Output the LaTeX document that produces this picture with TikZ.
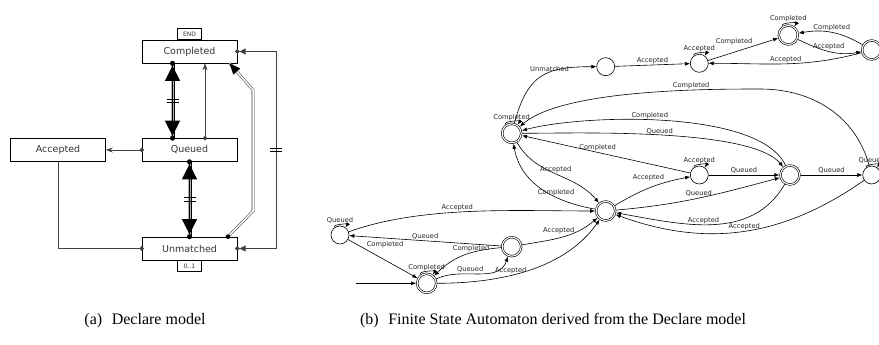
\documentclass[tikz,border=0pt]{standalone}
\usepackage{fontspec}
\setmainfont{DejaVu Sans}
\newfontfamily\capfont{Liberation Serif}
\usepackage{tikz}
\usetikzlibrary{arrows.meta,positioning,calc}

\tikzset{
  activity/.style={draw, line width=0.6pt, minimum width=95pt, minimum height=23pt, inner sep=0pt, font=\fontsize{9.5}{11}\selectfont, text=black!80},
  cardtag/.style={draw, line width=0.5pt, minimum width=24pt, minimum height=11pt, inner sep=0pt, font=\fontsize{6}{7}\selectfont, text=black!80},
  dline/.style={draw=black!75, line width=0.7pt},
  respline/.style={dline, {Circle[length=4.5pt]}-{Stealth[length=7pt,width=5pt]}, shorten <=-2.25pt},
  chainouter/.style={draw=black, line width=0.8pt, double=black!30, double distance=2.4pt},
  chaininner/.style={draw=black, line width=0.8pt, {Circle[length=5pt]Triangle[length=15pt,width=15pt]}-{Triangle[length=15pt,width=15pt]Circle[length=5pt]}, shorten <=-2.5pt, shorten >=-2.5pt},
  altline/.style={draw=black!75, line width=0.55pt, double=white, double distance=1.5pt},
  alttips/.style={tips=true, black, {Circle[length=4.5pt]}-{Triangle[length=11pt,width=9pt]}, shorten <=-2.25pt},
  notcoex/.style={dline, {Circle[length=4.5pt]Triangle[length=6pt,width=6pt]}-{Triangle[length=6pt,width=6pt]Circle[length=4.5pt]}, shorten <=-2.25pt, shorten >=-2.25pt},
  notbar/.pic={\draw[line width=0.6pt, black] (-6pt,-1.6pt) -- (6pt,-1.6pt) (-6pt,1.6pt) -- (6pt,1.6pt);},
  fsastate/.style={circle, draw, line width=0.6pt, minimum size=18pt, inner sep=0pt},
  fsafinal/.style={fsastate, double, double distance=1.1pt, minimum size=19pt, outer sep=1.1pt},
  fsa/.style={draw, line width=0.6pt, -{Latex[length=5pt,width=4pt]}},
  lbl/.style={font=\fontsize{6.7}{7}\selectfont, text=black!85, inner sep=1pt},
  every loop/.style={looseness=1, min distance=17pt},
  selfloop/.style={loop, out=125, in=55},
  subcap/.style={font=\capfont\fontsize{16}{18}\selectfont, inner sep=0pt}
}

\begin{document}
\begin{tikzpicture}[x=1pt, y=1pt]
\path[use as bounding box, clip] (0,0) rectangle (879,345);

% Declare model
\node[activity] (cmp) at (189.5,293.5) {Completed};
\node[activity] (que) at (189.5,195) {Queued};
\node[activity] (acc) at (58,195) {Accepted};
\node[activity] (unm) at (189.5,96.5) {Unmatched};
\node[cardtag, above=0pt of cmp] (cmpEnd) {END};
\node[cardtag, below=0pt of unm] (unmCard) {0..1};
\coordinate (b1) at (253,134);
\coordinate (b2) at (253,255);
\coordinate (rbot) at (276,96.5);
\coordinate (rtop) at (276,293.5);

\draw[chainouter] ([xshift=-17pt]cmp.south) -- ([xshift=-17pt]que.north);
\draw[chaininner] ([xshift=-17pt]cmp.south) -- ([xshift=-17pt]que.north);
\path ([xshift=-17pt]cmp.south) -- pic[pos=0.5]{notbar} ([xshift=-17pt]que.north);
\draw[chainouter] (que.south) -- (unm.north);
\draw[chaininner] (que.south) -- (unm.north);
\path (que.south) -- pic[pos=0.5]{notbar} (unm.north);
\draw[respline] ([xshift=15.5pt]que.north) -- ([xshift=15.5pt]cmp.south);
\draw[respline] (que.west) -- (acc.east);
\draw[dline, -{Circle[length=4.5pt]}, shorten >=-2.25pt] (acc.south) |- (unm.west);
\draw[altline] ([xshift=38.5pt]unm.north) -- (b1) -- (b2) -- ([xshift=40pt]cmp.south);
\path[alttips] ([xshift=38.5pt]unm.north) -- (b1) -- (b2) -- ([xshift=40pt]cmp.south);
\draw[notcoex] (unm.east) -- (rbot) -- (rtop) -- (cmp.east);
\path (rbot) -- pic[pos=0.5]{notbar} (rtop);

% automaton
\node[fsafinal] (s0) at (426.7,61.7) {};
\node[fsastate] (s1) at (340,110) {};
\node[fsafinal] (s2) at (511.7,98.3) {};
\node[fsafinal] (s3) at (605.7,134) {};
\node[fsastate] (s4) at (699.3,170) {};
\node[fsafinal] (s5) at (790,170) {};
\node[fsastate] (s6) at (871.7,170) {};
\node[fsafinal] (s7) at (511.7,211.7) {};
\node[fsastate] (s8) at (605.7,278.3) {};
\node[fsastate] (s9) at (699.3,281.7) {};
\node[fsafinal] (s10) at (788.3,310) {};
\node[fsafinal] (s11) at (871.7,295) {};
\coordinate (init) at (355.7,61.7);
\coordinate (k1) at (760,256);

\draw[fsa] (init) -- (s0);
\draw[fsa] (s0) to[selfloop] node[lbl,above] {Completed} (s0);
\draw[fsa] (s1) to[selfloop] node[lbl,above] {Queued} (s1);
\draw[fsa] (s4) to[selfloop] node[lbl,above] {Accepted} (s4);
\draw[fsa] (s6) to[selfloop] node[lbl,above] {Queued} (s6);
\draw[fsa] (s7) to[selfloop] node[lbl,above] {Completed} (s7);
\draw[fsa] (s9) to[selfloop] node[lbl,above] {Accepted} (s9);
\draw[fsa] (s10) to[selfloop] node[lbl,above] {Completed} (s10);

\draw[fsa] (s7) to[out=75,in=180,looseness=1.3] node[lbl,above,pos=0.6] {Unmatched} (s8);
\draw[fsa] (s8) -- node[lbl,above] {Accepted} (s9);
\draw[fsa] (s9) -- node[lbl,above left=0pt,pos=0.65] {Completed} (s10);
\draw[fsa] (s11) to[out=150,in=10] node[lbl,above] {Completed} (s10);
\draw[fsa] (s10) to[out=-25,in=190] node[lbl,above] {Accepted} (s11);
\draw[fsa] (s11) to[out=195,in=0] node[lbl,above] {Accepted} (s9);
\draw[fsa] (s6) to[out=105,in=0] (k1) to[out=180,in=40,looseness=0.6] node[lbl,above,pos=0.3] {Completed} (s7);
\draw[fsa] (s5) to[out=115,in=15,looseness=0.6] node[lbl,above,pos=0.55] {Completed} (s7);
\draw[fsa] (s7) to[out=0,in=130,looseness=0.5] node[lbl,above,pos=0.5] {Queued} (s5);
\draw[fsa] (s4) -- node[lbl,above,pos=0.55] {Completed} (s7);
\draw[fsa] (s7) to[out=-60,in=130] node[lbl,above] {Accepted} (s3);
\draw[fsa] (s3) to[out=170,in=-80] node[lbl,above,pos=0.35] {Completed} (s7);
\draw[fsa] (s3) to[bend left=10] node[lbl,above left=0pt,pos=0.7] {Accepted} (s4);
\draw[fsa] (s3) to[out=5,in=195] node[lbl,above] {Queued} (s5);
\draw[fsa] (s4) -- node[lbl,above] {Queued} (s5);
\draw[fsa] (s5) -- node[lbl,above] {Queued} (s6);
\draw[fsa] (s5) to[out=-120,in=-10] node[lbl,above,pos=0.55] {Accepted} (s3);
\draw[fsa] (s6) to[out=-145,in=-20] node[lbl,above] {Accepted} (s3);
\draw[fsa] (s1) to[out=20,in=180,looseness=0.8] node[lbl,above,pos=0.45] {Accepted} (s3);
\draw[fsa] (s2) -- node[lbl,above] {Queued} (s1);
\draw[fsa] (s1) -- node[lbl,above right=0pt,pos=0.25] {Completed} (s0);
\draw[fsa] (s2) to[out=185,in=45] node[lbl,above,pos=0.4] {Completed} (s0);
\draw[fsa] (s0) to[out=25,in=-110] node[lbl,above,pos=0.4] {Queued} (s2);
\draw[fsa] (s2) to[out=10,in=220] node[lbl,above=3pt,pos=0.45] {Accepted} (s3);
\draw[fsa] (s0) to[out=0,in=-125,looseness=0.9] node[lbl,above,pos=0.4] {Accepted} (s3);

\node[subcap] (capa) at (145,24) {(a)\hspace{0.6em}Declare model};
\node[subcap] (capb) at (553,24) {(b)\hspace{0.6em}Finite State Automaton derived from the Declare model};
\end{tikzpicture}
\end{document}
